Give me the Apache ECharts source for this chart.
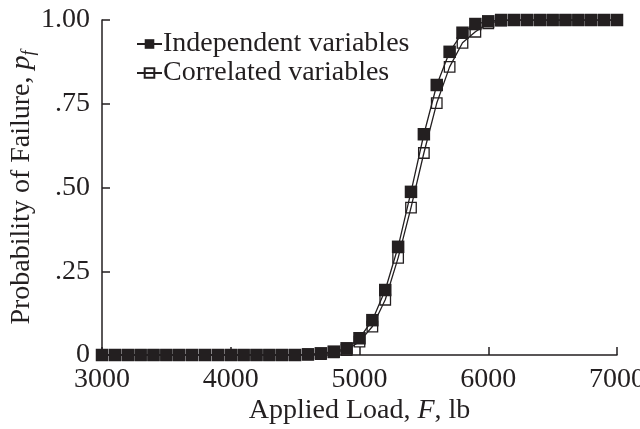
<!DOCTYPE html>
<html>
<head>
<meta charset="utf-8">
<script src="https://cdn.jsdelivr.net/npm/echarts@6/dist/echarts.min.js"></script>
<style>html,body{margin:0;padding:0;background:#fff;}#c{width:640px;height:429px;}</style>
</head>
<body>
<div id="c"></div>
<script>
const loads = [3000,3100,3200,3300,3400,3500,3600,3700,3800,3900,4000,4100,4200,4300,4400,4500,4600,4700,4800,4900,5000,5100,5200,5300,5400,5500,5600,5700,5800,5900,6000,6100,6200,6300,6400,6500,6600,6700,6800,6900,7000];
const independent = [0,0,0,0,0,0,0,0,0,0,0,0,0,0,0,0,0.002,0.005,0.01,0.02,0.05,0.104,0.194,0.323,0.487,0.659,0.806,0.905,0.962,0.988,0.996,1,1,1,1,1,1,1,1,1,1];
const correlated = [0,0,0,0,0,0,0,0,0,0,0,0,0,0,0,0,0.001,0.003,0.008,0.015,0.04,0.085,0.165,0.29,0.44,0.603,0.752,0.86,0.932,0.965,0.99,0.998,1,1,1,1,1,1,1,1,1];
const yTickValues = [0, 0.25, 0.5, 0.75, 1];
const yTickLabels = ['0', '.25', '.50', '.75', '1.00'];
const xTickLabels = ['3000', '4000', '5000', '6000', '7000'];
const seriesNames = ['Independent variables', 'Correlated variables'];

const ink = '#231f20';
const font = 'Liberation Serif';
const fs = 28;
const chart = echarts.init(document.getElementById('c'));
const pair = (xs, ys) => xs.map((x, i) => [x, ys[i]]);

chart.setOption({
  animation: false,
  textStyle: {fontFamily: font, color: ink},
  grid: {left: 102, right: 23, top: 20, bottom: 74, containLabel: false, outerBoundsMode: 'none'},
  legend: {
    data: seriesNames,
    left: 131, top: 25, orient: 'vertical',
    itemWidth: 25, itemHeight: 12, itemGap: 1,
    textStyle: {fontFamily: font, fontSize: fs, color: ink, padding: [0,0,0,-4]}
  },
  xAxis: {
    type: 'value', min: 3000, max: 7000, interval: 1000,
    name: 'Applied Load, {i|F}, lb', nameLocation: 'middle', nameGap: 42, nameMoveOverlap: false,
    nameTextStyle: {fontFamily: font, fontSize: fs, color: ink,
      rich: {i: {fontFamily: font, fontSize: fs, fontStyle: 'italic', color: ink}}},
    axisLine: {lineStyle: {color: ink, width: 1.5}},
    axisTick: {inside: true, length: 8, lineStyle: {color: ink, width: 1.5}},
    axisLabel: {fontFamily: font, fontSize: fs, color: ink, margin: 11,
      formatter: v => { const k = Math.round((v - 3000) / 1000); return xTickLabels[k] !== undefined ? xTickLabels[k] : ''; }},
    splitLine: {show: false}
  },
  yAxis: {
    type: 'value', min: 0, max: 1, interval: 0.25,
    name: 'Probability of Failure, {i|p}{s|f}', nameLocation: 'middle', nameGap: 64, nameMoveOverlap: false,
    nameTextStyle: {fontFamily: font, fontSize: fs, color: ink, lineHeight: 32,
      rich: {
        i: {fontFamily: font, fontSize: fs, fontStyle: 'italic', color: ink, lineHeight: 32},
        s: {fontFamily: font, fontSize: 18, fontStyle: 'italic', color: ink, verticalAlign: 'bottom', lineHeight: 32}
      }},
    axisLine: {show: true, lineStyle: {color: ink, width: 1.5}},
    axisTick: {show: true, inside: true, length: 8, lineStyle: {color: ink, width: 1.5}},
    axisLabel: {fontFamily: font, fontSize: fs, color: ink, margin: 12,
      formatter: v => { const k = yTickValues.findIndex(t => Math.abs(t - v) < 1e-9); return k >= 0 ? yTickLabels[k] : ''; }},
    splitLine: {show: false}
  },
  series: [
    {
      name: seriesNames[1], type: 'line', data: pair(loads, correlated),
      symbol: 'rect', symbolSize: 10.5, showAllSymbol: true, z: 2,
      lineStyle: {color: ink, width: 1.3},
      itemStyle: {color: 'rgba(255,255,255,0)', borderColor: ink, borderWidth: 1.3}
    },
    {
      name: seriesNames[0], type: 'line', data: pair(loads, independent),
      symbol: 'rect', symbolSize: 12.5, showAllSymbol: true, z: 3,
      lineStyle: {color: ink, width: 1.3},
      itemStyle: {color: ink, borderColor: ink, borderWidth: 0}
    }
  ]
});
</script>
</body>
</html>
